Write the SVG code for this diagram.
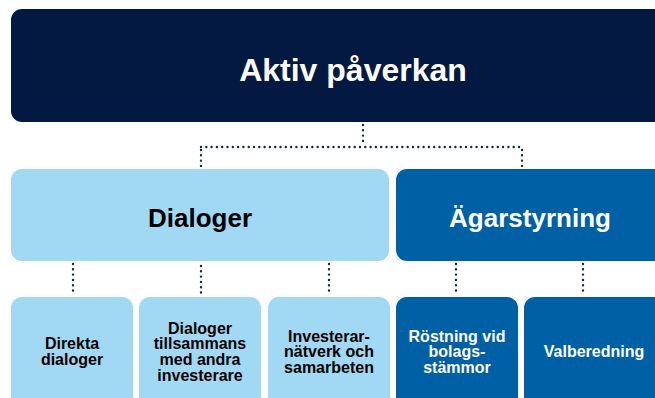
<svg xmlns="http://www.w3.org/2000/svg" width="655" height="398" viewBox="0 0 655 398">
<style>
.t{font-family:"Liberation Sans",Arial,sans-serif;font-weight:bold;text-anchor:middle}
.w{fill:#ffffff}.k{fill:#000000}
.light{fill:#A1D8F3}.mid{fill:#0060A5}.dark{fill:#031942}
.s{font-size:16px}
.m{font-size:26px}
.dot{fill:none;stroke:#0A2A4F;stroke-width:2.4;stroke-linecap:round;stroke-dasharray:0 5.3}
</style>
<rect width="655" height="398" fill="#ffffff"/>
<g id="connectors">
<path class="dot" d="M363 125 V145"/>
<path class="dot" d="M201 147 H522"/>
<path class="dot" d="M201 150 V166 M522 150 V166"/>
<path class="dot" d="M73 264 V295 M201 266 V295 M329 264 V295 M456 264 V295 M583 264 V295"/>
</g>
<g id="aktiv">
<rect class="dark" x="11" y="9" width="700" height="113" rx="11"/>
<text class="t w" x="353" y="81" font-size="32">Aktiv påverkan</text>
</g>
<g id="dialoger">
<rect class="light" x="11" y="169" width="378" height="92" rx="11"/>
<text class="t k m" x="200" y="227">Dialoger</text>
</g>
<g id="agarstyrning">
<rect class="mid" x="396" y="169" width="300" height="92" rx="11"/>
<text class="t w m" x="530" y="227">Ägarstyrning</text>
</g>
<g id="direkta">
<rect class="light" x="11" y="297" width="122" height="120" rx="11"/>
<text class="t k s" x="72" y="349.4">Direkta<tspan x="72" dy="15.8">dialoger</tspan></text>
</g>
<g id="tillsammans">
<rect class="light" x="139" y="297" width="122" height="120" rx="11"/>
<text class="t k s" x="200" y="333.6">Dialoger<tspan x="200" dy="15.8">tillsammans</tspan><tspan x="200" dy="15.8">med andra</tspan><tspan x="200" dy="15.8">investerare</tspan></text>
</g>
<g id="natverk">
<rect class="light" x="268" y="297" width="122" height="120" rx="11"/>
<text class="t k s" x="329" y="341.5">Investerar-<tspan x="329" dy="15.8">nätverk och</tspan><tspan x="329" dy="15.8">samarbeten</tspan></text>
</g>
<g id="rostning">
<rect class="mid" x="396" y="297" width="122" height="120" rx="11"/>
<text class="t w s" x="457" y="341.5">Röstning vid<tspan x="457" dy="15.8">bolags-</tspan><tspan x="457" dy="15.8">stämmor</tspan></text>
</g>
<g id="valberedning">
<rect class="mid" x="524" y="297" width="160" height="120" rx="11"/>
<text class="t w s" x="594" y="357.3">Valberedning</text>
</g>
</svg>
